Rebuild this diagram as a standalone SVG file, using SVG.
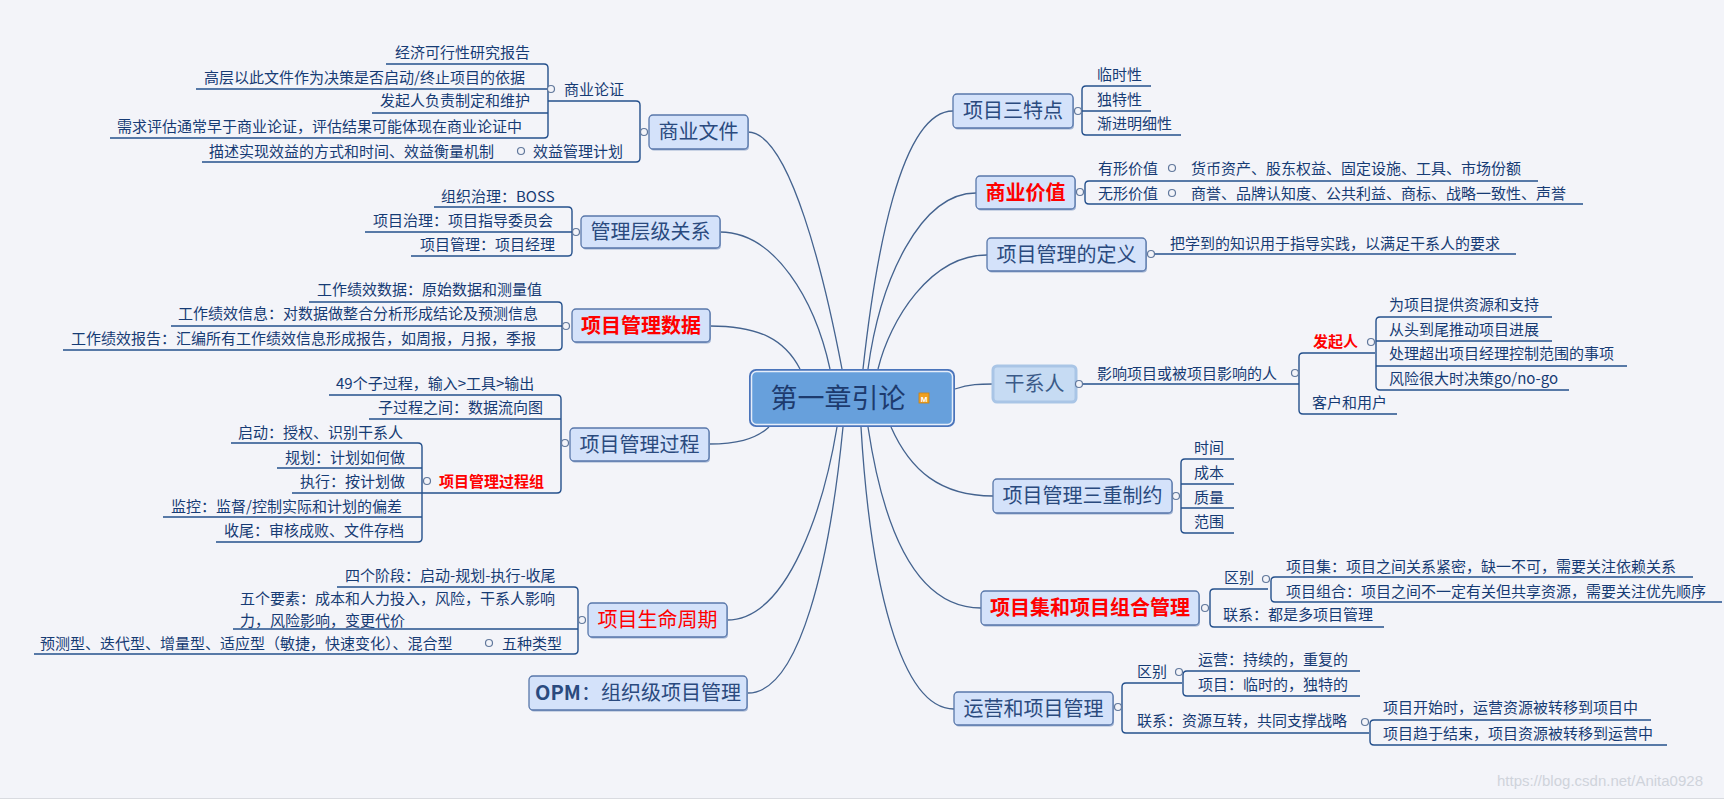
<svg xmlns="http://www.w3.org/2000/svg" width="1724" height="799" viewBox="0 0 1724 799">
<style>
text{font-family:"Noto Sans CJK SC","Noto Sans",sans-serif;}
.tt{font-size:20px;fill:#2a4a7e;text-anchor:middle;}
.st{font-size:15px;fill:#163b74;}
.red{fill:#ff0000;font-weight:bold;}
.box{fill:#d4e2fa;stroke:#5877aa;stroke-width:1.3;}
.sh{fill:#9fb2d2;}
.ln{fill:none;stroke:#24508c;stroke-width:1.4;}
.cn{fill:none;stroke:#44638f;stroke-width:1.3;}
.mk{fill:#f3f4f9;stroke:#61789c;stroke-width:1.2;}
</style>
<rect width="1724" height="799" fill="#f3f4f9"/>
<line x1="0" y1="798.5" x2="1724" y2="798.5" stroke="#d9dbe0" stroke-width="1"/>

<g id="connectors">
<path class="cn" d="M842,369 C825,280 790,132 748,132"/>
<path class="cn" d="M830,369 C815,300 775,232 720,232"/>
<path class="cn" d="M800,369 C785,340 760,326 710,326"/>
<path class="cn" d="M769,427 C755,440 735,444 709,444"/>
<path class="cn" d="M837,427 C825,500 790,620 727,620"/>
<path class="cn" d="M843,427 C830,560 800,693 748,693"/>
<path class="cn" d="M863,369 C875,260 900,111 953,111"/>
<path class="cn" d="M868,369 C880,280 920,193 976,193"/>
<path class="cn" d="M878,369 C890,320 930,255 987,255"/>
<path class="cn" d="M955,389 C970,384 980,384 993,384"/>
<path class="cn" d="M891,427 C910,470 940,496 993,496"/>
<path class="cn" d="M868,427 C885,540 920,608 981,608"/>
<path class="cn" d="M861,427 C870,580 900,709 954,709"/>
</g>

<g id="center">
<rect x="749" y="369" width="206" height="58" rx="7" fill="#4a74bb"/>
<rect x="751.5" y="371.5" width="201" height="53" rx="5" fill="#67a0dc" stroke="#e6eefa" stroke-width="1.5"/>
<text x="838" y="408" font-size="27" fill="#1d3b6e" text-anchor="middle">第一章引论</text>
<rect x="919" y="393" width="10" height="10" fill="#f0a020" stroke="#c98214" stroke-width="0.8"/>
<text x="924" y="401.5" font-size="8" font-weight="bold" fill="#ffffff" text-anchor="middle" style="font-family:'Liberation Sans',sans-serif">M</text>
</g>

<g id="node-shangyewenjian">
<rect class="sh" x="650" y="116.5" width="99" height="34" rx="4"/>
<rect class="box" x="649" y="115" width="99" height="34" rx="4"/>
<text class="tt" x="698.5" y="139.2">商业文件</text>
<path class="ln" d="M386,64 H544 Q548,64 548,68 V134 Q548,138 544,138 H110 M196,89 H548 M372,113 H548"/>
<path class="ln" d="M548,101 H636 Q640,101 640,105 V158 Q640,162 636,162 H202"/>
<circle class="mk" cx="551" cy="89" r="3.5"/>
<circle class="mk" cx="521" cy="151" r="3.5"/>
<circle class="mk" cx="644" cy="132" r="3.5"/>
<text class="st" x="564" y="94.5">商业论证</text>
<text class="st" x="395" y="58">经济可行性研究报告</text>
<text class="st" x="204" y="82.5">高层以此文件作为决策是否启动/终止项目的依据</text>
<text class="st" x="380" y="105.5">发起人负责制定和维护</text>
<text class="st" x="117" y="131.5">需求评估通常早于商业论证，评估结果可能体现在商业论证中</text>
<text class="st" x="533" y="156.5">效益管理计划</text>
<text class="st" x="209" y="156.5">描述实现效益的方式和时间、效益衡量机制</text>
</g>

<g id="node-guanlicengji">
<rect class="sh" x="582" y="217.5" width="139" height="32" rx="4"/>
<rect class="box" x="581" y="216" width="139" height="32" rx="4"/>
<text class="tt" x="650.5" y="239.2">管理层级关系</text>
<path class="ln" d="M434,207 H568 Q572,207 572,211 V252 Q572,256 568,256 H411 M365,232 H572"/>
<circle class="mk" cx="576" cy="232" r="3.5"/>
<text class="st" x="441" y="201.5">组织治理：BOSS</text>
<text class="st" x="373" y="225.5">项目治理：项目指导委员会</text>
<text class="st" x="420" y="249.5">项目管理：项目经理</text>
</g>

<g id="node-xiangmuguanlishuju">
<rect class="sh" x="573" y="310.5" width="138" height="33" rx="4"/>
<rect class="box" x="572" y="309" width="138" height="33" rx="4"/>
<text class="tt red" x="641" y="333">项目管理数据</text>
<path class="ln" d="M309,302 H558 Q562,302 562,306 V346 Q562,350 558,350 H63 M171,326 H562"/>
<circle class="mk" cx="566" cy="326" r="3.5"/>
<text class="st" x="317" y="294.5">工作绩效数据：原始数据和测量值</text>
<text class="st" x="178" y="318.5">工作绩效信息：对数据做整合分析形成结论及预测信息</text>
<text class="st" x="71" y="343.5">工作绩效报告：汇编所有工作绩效信息形成报告，如周报，月报，季报</text>
</g>

<g id="node-xiangmuguanliguocheng">
<rect class="sh" x="571" y="429.5" width="139" height="33" rx="4"/>
<rect class="box" x="570" y="428" width="139" height="33" rx="4"/>
<text class="tt" x="639.5" y="451.5">项目管理过程</text>
<path class="ln" d="M329,395 H557 Q561,395 561,399 V489 Q561,493 557,493 H422 M369,419 H561"/>
<path class="ln" d="M231,443 H418 Q422,443 422,447 V538 Q422,542 418,542 H216 M277,468 H422 M292,493 H422 M163,517 H422"/>
<circle class="mk" cx="565" cy="443" r="3.5"/>
<circle class="mk" cx="427" cy="481" r="3.5"/>
<text class="st" x="336" y="388.5">49个子过程，输入&gt;工具&gt;输出</text>
<text class="st" x="378" y="412.5">子过程之间：数据流向图</text>
<text class="st red" x="439" y="486.5">项目管理过程组</text>
<text class="st" x="238" y="437.5">启动：授权、识别干系人</text>
<text class="st" x="285" y="462.5">规划：计划如何做</text>
<text class="st" x="300" y="486.5">执行：按计划做</text>
<text class="st" x="171" y="511.5">监控：监督/控制实际和计划的偏差</text>
<text class="st" x="224" y="535.5">收尾：审核成败、文件存档</text>
</g>

<g id="node-shengmingzhouqi">
<rect class="sh" x="589" y="604.5" width="139" height="34" rx="4"/>
<rect class="box" x="588" y="603" width="139" height="34" rx="4"/>
<text class="tt" x="657.5" y="627.2" style="fill:#ff0000">项目生命周期</text>
<path class="ln" d="M337,587 H574 Q578,587 578,591 V650 Q578,654 574,654 H34 M233,629 H578"/>
<circle class="mk" cx="582" cy="620" r="3.5"/>
<circle class="mk" cx="489" cy="643" r="3.5"/>
<text class="st" x="345" y="580.5">四个阶段：启动-规划-执行-收尾</text>
<text class="st" x="240" y="603.5"><tspan x="240">五个要素：成本和人力投入，风险，干系人影响</tspan><tspan x="240" dy="22">力，风险影响，变更代价</tspan></text>
<text class="st" x="502" y="648.5">五种类型</text>
<text class="st" x="40" y="648.5">预测型、迭代型、增量型、适应型（敏捷，快速变化）、混合型</text>
</g>

<g id="node-opm">
<rect class="sh" x="530" y="677.5" width="218" height="34" rx="4"/>
<rect class="box" x="529" y="676" width="218" height="34" rx="4"/>
<text class="tt" x="638" y="700.2"><tspan font-weight="600">OPM</tspan>：组织级项目管理</text>
</g>

<g id="node-santedian">
<rect class="sh" x="954" y="95.5" width="120" height="34" rx="4"/>
<rect class="box" x="953" y="94" width="120" height="34" rx="4"/>
<text class="tt" x="1013" y="118.2">项目三特点</text>
<path class="ln" d="M1151,86 H1086 Q1082,86 1082,90 V131 Q1082,135 1086,135 H1181 M1082,111 H1151"/>
<circle class="mk" cx="1078" cy="111" r="3.5"/>
<text class="st" x="1097" y="79.5">临时性</text>
<text class="st" x="1097" y="104.5">独特性</text>
<text class="st" x="1097" y="128.5">渐进明细性</text>
</g>

<g id="node-shangyejiazhi">
<rect class="sh" x="977" y="177.5" width="99" height="33" rx="4"/>
<rect class="box" x="976" y="176" width="99" height="33" rx="4"/>
<text class="tt red" x="1025.5" y="200">商业价值</text>
<path class="ln" d="M1538,181 H1089 Q1085,181 1085,185 V200 Q1085,204 1089,204 H1583"/>
<circle class="mk" cx="1080" cy="192" r="3.5"/>
<circle class="mk" cx="1172" cy="168" r="3.5"/>
<circle class="mk" cx="1172" cy="193" r="3.5"/>
<text class="st" x="1098" y="173.5">有形价值</text>
<text class="st" x="1191" y="173.5">货币资产、股东权益、固定设施、工具、市场份额</text>
<text class="st" x="1098" y="198.5">无形价值</text>
<text class="st" x="1191" y="198.5">商誉、品牌认知度、公共利益、商标、战略一致性、声誉</text>
</g>

<g id="node-dingyi">
<rect class="sh" x="988" y="239.5" width="159" height="33" rx="4"/>
<rect class="box" x="987" y="238" width="159" height="33" rx="4"/>
<text class="tt" x="1066.5" y="262">项目管理的定义</text>
<path class="ln" d="M1154,254 H1516"/>
<circle class="mk" cx="1151" cy="254" r="3.5"/>
<text class="st" x="1170" y="248.5">把学到的知识用于指导实践，以满足干系人的要求</text>
</g>

<g id="node-ganxiren">
<rect x="993" y="366" width="83" height="36" rx="4" fill="#c6dbf3" stroke="#a9c5e6" stroke-width="3"/>
<text class="tt" x="1034.5" y="391.2" style="fill:#3a5a88">干系人</text>
<path class="ln" d="M1082,384 H1299 M1375,353 H1303 Q1299,353 1299,357 V410 Q1299,414 1303,414 H1397"/>
<path class="ln" d="M1552,317 H1380 Q1376,317 1376,321 V386 Q1376,390 1380,390 H1569 M1376,341 H1552 M1376,366 H1627"/>
<circle class="mk" cx="1079" cy="384" r="3.5"/>
<circle class="mk" cx="1295" cy="373" r="3.5"/>
<circle class="mk" cx="1371" cy="342" r="3.5"/>
<text class="st" x="1097" y="378.5">影响项目或被项目影响的人</text>
<text class="st red" x="1313" y="346.5">发起人</text>
<text class="st" x="1389" y="309.5">为项目提供资源和支持</text>
<text class="st" x="1389" y="334.5">从头到尾推动项目进展</text>
<text class="st" x="1389" y="358.5">处理超出项目经理控制范围的事项</text>
<text class="st" x="1389" y="383.5">风险很大时决策go/no-go</text>
<text class="st" x="1312" y="407.5">客户和用户</text>
</g>

<g id="node-sanchongzhiyue">
<rect class="sh" x="994" y="480.5" width="179" height="34" rx="4"/>
<rect class="box" x="993" y="479" width="179" height="34" rx="4"/>
<text class="tt" x="1082.5" y="503.2">项目管理三重制约</text>
<path class="ln" d="M1234,459 H1185 Q1181,459 1181,463 V529 Q1181,533 1185,533 H1234 M1181,484 H1234 M1181,508 H1234"/>
<circle class="mk" cx="1176" cy="496" r="3.5"/>
<text class="st" x="1194" y="452.5">时间</text>
<text class="st" x="1194" y="477.5">成本</text>
<text class="st" x="1194" y="502.5">质量</text>
<text class="st" x="1194" y="526.5">范围</text>
</g>

<g id="node-xiangmuji">
<rect class="sh" x="982" y="592.5" width="218" height="34" rx="4"/>
<rect class="box" x="981" y="591" width="218" height="34" rx="4"/>
<text class="tt red" x="1090" y="615.2">项目集和项目组合管理</text>
<path class="ln" d="M1268,589 H1214 Q1210,589 1210,593 V623 Q1210,627 1214,627 H1384"/>
<path class="ln" d="M1693,577 H1275 Q1271,577 1271,581 V598 Q1271,602 1275,602 H1722"/>
<circle class="mk" cx="1205" cy="608" r="3.5"/>
<circle class="mk" cx="1266" cy="579" r="3.5"/>
<text class="st" x="1224" y="582.5">区别</text>
<text class="st" x="1286" y="571.5">项目集：项目之间关系紧密，缺一不可，需要关注依赖关系</text>
<text class="st" x="1286" y="596.5">项目组合：项目之间不一定有关但共享资源，需要关注优先顺序</text>
<text class="st" x="1223" y="619.5">联系：都是多项目管理</text>
</g>

<g id="node-yunying">
<rect class="sh" x="955" y="693.5" width="159" height="33" rx="4"/>
<rect class="box" x="954" y="692" width="159" height="33" rx="4"/>
<text class="tt" x="1033.5" y="716">运营和项目管理</text>
<path class="ln" d="M1182,683 H1126 Q1122,683 1122,687 V729 Q1122,733 1126,733 H1369"/>
<path class="ln" d="M1360,671 H1187 Q1183,671 1183,675 V692 Q1183,696 1187,696 H1360"/>
<path class="ln" d="M1651,720 H1374 Q1370,720 1370,724 V741 Q1370,745 1374,745 H1667"/>
<circle class="mk" cx="1118" cy="707" r="3.5"/>
<circle class="mk" cx="1179" cy="672" r="3.5"/>
<circle class="mk" cx="1365" cy="722" r="3.5"/>
<text class="st" x="1137" y="676.5">区别</text>
<text class="st" x="1198" y="664.5">运营：持续的，重复的</text>
<text class="st" x="1198" y="689.5">项目：临时的，独特的</text>
<text class="st" x="1137" y="725.5">联系：资源互转，共同支撑战略</text>
<text class="st" x="1383" y="712.5">项目开始时，运营资源被转移到项目中</text>
<text class="st" x="1383" y="738.5">项目趋于结束，项目资源被转移到运营中</text>
</g>

<text x="1497" y="786" font-size="15" fill="#cfd3db" style="font-family:'Liberation Sans',sans-serif">https://blog.csdn.net/Anita0928</text>
</svg>
